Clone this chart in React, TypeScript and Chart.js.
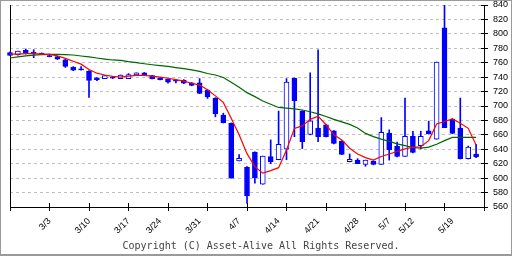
import React, { useEffect, useRef } from 'react';
import { Chart, registerables } from 'chart.js';

Chart.register(...registerables);

// Trading days (index = position on the x axis)
const dates = [
  '2/21', '2/25', '2/26', '2/27', '2/28',
  '3/3', '3/4', '3/5', '3/6', '3/7',
  '3/10', '3/11', '3/12', '3/13', '3/14',
  '3/17', '3/18', '3/19', '3/21',
  '3/24', '3/25', '3/26', '3/27', '3/28',
  '3/31', '4/1', '4/2', '4/3', '4/4',
  '4/7', '4/8', '4/9', '4/10', '4/11',
  '4/14', '4/15', '4/16', '4/17', '4/18',
  '4/21', '4/22', '4/23', '4/24', '4/25',
  '4/28', '4/30', '5/1', '5/2',
  '5/7', '5/8', '5/9',
  '5/12', '5/13', '5/14', '5/15', '5/16',
  '5/19', '5/20', '5/21', '5/22',
];

const openPrices = [
  774, 771, 777, 773, 773, 768.5, 768.5, 764, 754, 750,
  748.5, 739, 738, 739.5, 738, 738, 743, 746, 742, 739,
  737, 734.5, 736, 732, 732, 722, 711, 687.5, 676, 624,
  615.5, 636, 591.5, 630, 625.5, 640, 738.5, 693, 660.5, 669.5,
  674, 665.5, 651.5, 623, 625, 619, 623.5, 619, 662.5, 644.5,
  630, 658, 645, 665.5, 654, 808.5, 682, 669.5, 627, 633.5,
];
const highPrices = [
  775, 776, 779, 778, 773.5, 772, 769, 765, 754.5, 754.5,
  749, 739.5, 742, 740, 743, 745, 746, 746.5, 742.5, 739.5,
  737.5, 737, 736.5, 732.5, 738, 722.5, 711.5, 690, 676.5, 632.5,
  616, 636.5, 630.5, 653, 693, 738, 739, 693.5, 746, 778,
  675, 666, 652, 633.5, 627, 625, 624, 684, 667, 650,
  711, 665, 665, 679, 761, 839.5, 682.5, 711, 644.5, 647,
];
const lowPrices = [
  770, 770.5, 772, 767, 771.5, 768, 764.5, 753.5, 749, 749.5,
  712, 735, 738, 738, 738, 738, 742.5, 742, 737.5, 736,
  731.5, 732, 731, 728, 717, 710.5, 685, 676.5, 600, 624,
  565, 593, 591.5, 620, 625.5, 625.5, 657.5, 641, 660, 650.5,
  657, 647.5, 632.5, 622.5, 620, 616.5, 618.5, 619, 625, 629.5,
  630, 635, 640.5, 661, 654, 670, 661.5, 626.5, 626.5, 628.5,
];
const closePrices = [
  770, 776, 773.5, 773, 772, 768.5, 765, 755, 749.5, 750,
  735.5, 736.5, 742, 738.5, 743, 743.5, 746, 742.5, 738, 736.5,
  733, 734.5, 731.5, 728.5, 717.5, 712.5, 689, 677, 600, 627.5,
  575.5, 600.5, 630.5, 623, 647, 733, 707.5, 650.5, 679.5, 657.5,
  657.5, 648, 633, 626, 620, 625, 619, 663.5, 639.5, 630,
  658, 635.5, 658, 661.5, 761, 670, 662, 627, 643, 629.5,
];

// Moving averages
const maShort = [
  772, 772, 772.5, 772.5, 772, 771.5, 769.5, 766, 762, 758,
  750.5, 745.5, 743, 741, 740, 741.5, 742.5, 742.5, 741.5, 740,
  738.5, 736.5, 734.5, 731.5, 729, 722.5, 714, 705, 683, 660,
  634, 616, 607, 610.5, 614.5, 639, 669, 672.5, 681.5, 686,
  674, 660, 653, 641.5, 633.5, 628.5, 625, 630, 633.5, 637,
  640.5, 643, 643.5, 652, 675, 678.5, 682, 676, 669, 646,
];
const maLong = [
  766.5, 768, 769.5, 770.5, 771.2, 771.6, 771.6, 771.2, 770.7, 769.3,
  768, 766.5, 765.1, 763.8, 763.3, 761.5, 760.2, 758.6, 757.2, 756,
  754.8, 753.2, 751.8, 750, 748, 745, 743, 739.5, 733, 726,
  718.5, 713, 707, 702.5, 698, 697, 696, 694.5, 692, 689,
  685.5, 681.5, 678, 674.5, 669.5, 662, 657.5, 654, 651, 647.5,
  645, 642.5, 641.5, 643, 647, 652, 656.5, 656.5, 656.5, 656.5,
];

const dateTickLabels = ['3/3', '3/10', '3/17', '3/24', '3/31', '4/7', '4/14', '4/21', '4/28', '5/7', '5/12', '5/19'];
const yMin = 560;
const yMax = 840;
const yStep = 20;
const tickEvery = 5;
const copyright = 'Copyright (C) Asset-Alive All Rights Reserved.';

const frame = {
  id: 'frame',
  afterDraw(chart: any) {
    const ctx = chart.ctx;
    const w = chart.width, h = chart.height;
    ctx.save();
    // inner halves of the crossing tick marks
    ctx.fillStyle = '#000';
    const xs = chart.scales.x;
    const ys = chart.scales.y;
    const ca = chart.chartArea;
    for (let v = 0; v <= xs.max; v += tickEvery) {
      const px = Math.round(xs.getPixelForValue(v) - 0.5);
      ctx.fillRect(px, Math.round(ca.bottom) - 4, 1, 4);
    }
    for (let v = yMin; v <= yMax; v += yStep) {
      const py = Math.round(ys.getPixelForValue(v) - 0.5);
      ctx.fillRect(Math.round(ca.right) - 3, py, 3, 1);
    }
    ctx.fillRect(Math.round(ca.left - 0.5), Math.round(ca.bottom), 1, 4);
    // outer frame
    ctx.fillStyle = '#9a9a9a';
    ctx.fillRect(0, 0, w, 1);
    ctx.fillRect(0, 0, 1, h);
    ctx.fillRect(w - 1, 0, 1, h);
    ctx.fillRect(0, h - 2, w, 2);
    ctx.restore();
  },
};

export default function App() {
  const ref = useRef<HTMLCanvasElement>(null);
  useEffect(() => {
    document.body.style.margin = '0';
    const n = dates.length;
    const idx = dates.map((_, i) => i);
    const labelAt = new Map<number, string>();
    dates.forEach((d, i) => { if (dateTickLabels.includes(d)) labelAt.set(i, d); });
    const bodies = idx.map(i => ({ x: i, y: [Math.min(openPrices[i], closePrices[i]), Math.max(openPrices[i], closePrices[i])] }));
    const wicks = idx.map(i => ({ x: i, y: [lowPrices[i], highPrices[i]] }));
    const filled = idx.map(i => closePrices[i] <= openPrices[i]);
    const axisMax = n;

    const chart = new Chart(ref.current as HTMLCanvasElement, {
      type: 'bar',
      data: {
        datasets: [
          {
            type: 'line', data: idx.map(i => ({ x: i, y: maShort[i] })), borderColor: '#ff0000',
            borderWidth: 1.2, pointRadius: 0, tension: 0, order: 0, xAxisID: 'x', yAxisID: 'y',
          } as any,
          {
            type: 'line', data: idx.map(i => ({ x: i, y: maLong[i] })), borderColor: '#006600',
            borderWidth: 1.2, pointRadius: 0, tension: 0, order: 0, xAxisID: 'x', yAxisID: 'y',
          } as any,
          {
            type: 'bar', data: bodies as any, barThickness: 5, grouped: false, order: 1,
            backgroundColor: filled.map(f => (f ? '#0000ff' : '#ffffff')), borderColor: '#0000ff',
            borderWidth: 1, borderSkipped: false, minBarLength: 1, clip: false as any,
            xAxisID: 'x', yAxisID: 'y',
          } as any,
          {
            type: 'bar', data: wicks as any, barThickness: 1, grouped: false, order: 2,
            backgroundColor: '#0000ff', borderWidth: 0, clip: false as any,
            xAxisID: 'x', yAxisID: 'y',
          } as any,
        ],
      },
      options: {
        responsive: false,
        animation: false,
        events: [],
        layout: { padding: { left: 10, right: 0, top: 5, bottom: 0 } },
        plugins: {
          legend: { display: false },
          tooltip: { enabled: false },
          title: {
            display: true, position: 'bottom', text: copyright, color: '#444',
            font: { family: 'DejaVu Sans Mono', size: 10, weight: 'normal' },
            padding: { top: 0, bottom: 4 },
          },
        },
        scales: {
          x: {
            type: 'linear', position: 'bottom', min: 0, max: axisMax, offset: false,
            afterBuildTicks: (s: any) => { s.ticks = Array.from({ length: axisMax + 1 }, (_, v) => ({ value: v })); },
            afterFit: (s: any) => { s.height = 33; s.paddingLeft = 0; s.paddingRight = 0; },
            ticks: {
              autoSkip: false, minRotation: 45, maxRotation: 45, padding: 5, color: '#000',
              font: { family: 'Liberation Sans', size: 9 },
              callback: (v: any) => labelAt.get(Math.round(Number(v))) ?? '',
            },
            grid: {
              drawOnChartArea: false, drawTicks: true, tickLength: 4, offset: false,
              tickColor: (c: any) => (c.tick && Math.round(c.tick.value) % tickEvery === 0 ? '#000' : 'rgba(0,0,0,0)'),
            },
            border: { display: true, color: '#000', width: 1 },
          },
          y: {
            type: 'linear', position: 'right', min: yMin, max: yMax,
            afterFit: (s: any) => { s.width = 28; s.paddingTop = 0; s.paddingBottom = 0; },
            ticks: { stepSize: yStep, padding: 5, color: '#000', font: { family: 'Liberation Sans', size: 9 } },
            grid: { color: '#c0c0c0', lineWidth: 1, tickLength: 4, tickColor: '#000' },
            border: { display: true, color: '#000', width: 1, dash: [3, 3] },
          },
          yLeft: {
            type: 'linear', position: 'left', min: 0, max: 1, display: true,
            afterFit: (s: any) => { s.width = 0; s.paddingTop = 0; s.paddingBottom = 0; },
            ticks: { display: false },
            grid: { display: false },
            border: { display: true, color: '#000', width: 1 },
          },
        },
      } as any,
      plugins: [frame],
    });
    return () => chart.destroy();
  }, []);
  return (
    <div style={{ width: 512, height: 256, background: '#fff' }}>
      <canvas ref={ref} width={512} height={256} />
    </div>
  );
}
